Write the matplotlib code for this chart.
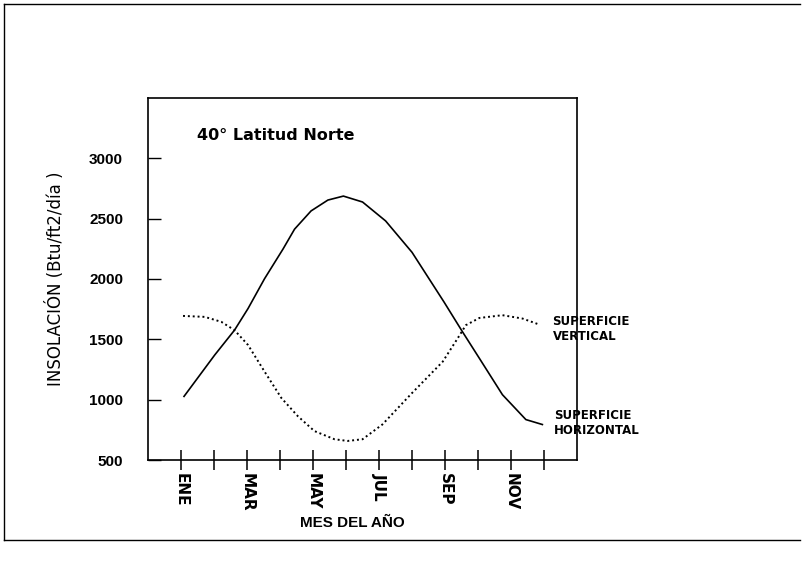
import matplotlib.pyplot as plt
from matplotlib.lines import Line2D

plt.rcParams['font.family'] = ['Liberation Sans', 'DejaVu Sans']

# meses (posición fraccional) y valores
mes_h = [1.09, 2.02, 2.62, 3.03, 3.53, 4.09, 4.44, 4.94, 5.45, 5.92, 6.5,
         7.2, 8.0, 8.97, 9.53, 10.04, 10.74, 11.45, 11.95]
horizontal = [1027, 1370, 1576, 1755, 2002, 2248, 2413, 2564, 2654, 2687, 2638,
              2481, 2221, 1809, 1562, 1343, 1041, 835, 794]

mes_v = [1.06, 1.72, 2.22, 2.62, 3.03, 3.53, 4.04, 4.54, 5.04, 5.65, 6.05, 6.5,
         7.1, 8.0, 8.93, 9.38, 9.63, 10.04, 10.74, 11.35, 11.85]
vertical = [1694, 1686, 1645, 1576, 1453, 1233, 1014, 863, 740, 672, 658, 672,
            794, 1055, 1315, 1507, 1617, 1677, 1700, 1672, 1623]

meses = [1, 3, 5, 7, 9, 11]
nombres = ["ENE", "MAR", "MAY", "JUL", "SEP", "NOV"]
yticks = [500, 1000, 1500, 2000, 2500, 3000]

fig = plt.figure(figsize=(8.05, 5.67), dpi=100)
ax = fig.add_axes([0.1839, 0.1887, 0.5329, 0.6385])

ax.plot(mes_h, horizontal, color='black', lw=1.2)
ax.plot(mes_v, vertical, color='black', lw=1.4, linestyle=(0, (1, 1.5)))

ax.set_xlim(0, 13)
ax.set_ylim(500, 3500)

ax.set_xticks(range(1, 13), minor=True)
ax.set_xticks(meses)
ax.set_xticklabels(nombres, rotation=-90, fontsize=11, fontweight='bold',
                   family=['DejaVu Sans'])
ax.tick_params(axis='x', which='both', direction='inout', length=14, width=1.1, pad=2)
ax.set_yticks(yticks)
ax.set_yticklabels([str(v) for v in yticks], fontsize=11, fontweight='bold')
ax.tick_params(axis='y', direction='in', length=9, width=1.0, pad=18)

for s in ax.spines.values():
    s.set_linewidth(1.2)

ax.text(1.48, 3190, "40° Latitud Norte", fontsize=11.5, fontweight='bold',
        va='center', family=['DejaVu Sans'])

ax.text(12.26, 1584, "SUPERFICIE\nVERTICAL", fontsize=8.5, fontweight='bold',
        va='center', ha='left', clip_on=False, linespacing=1.2, family=['DejaVu Sans'])
ax.text(12.3, 803, "SUPERFICIE\nHORIZONTAL", fontsize=8.5, fontweight='bold',
        va='center', ha='left', clip_on=False, linespacing=1.2, family=['DejaVu Sans'])

ax.set_ylabel("INSOLACIÓN (Btu/ft2/día )", fontsize=12, labelpad=17,
              family=['DejaVu Sans'])
fig.text(352 / 805, 1 - 523 / 567, "MES DEL AÑO", fontsize=11, fontweight='bold',
         ha='center', va='center')

# marco exterior
for xs, ys in [([4 / 805, 4 / 805], [1 - 4 / 567, 1 - 540 / 567]),
               ([4 / 805, 800 / 805], [1 - 4 / 567, 1 - 4 / 567]),
               ([4 / 805, 800 / 805], [1 - 540 / 567, 1 - 540 / 567])]:
    fig.add_artist(Line2D(xs, ys, color='black', lw=1.0))

plt.savefig("out.png", dpi=100)
